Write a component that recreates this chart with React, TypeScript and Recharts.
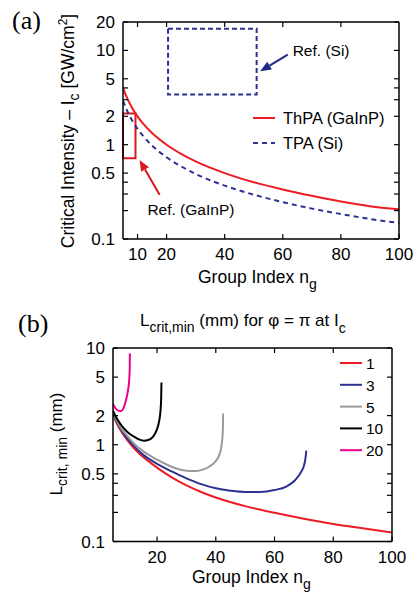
import React from 'react';
import { LineChart, Line, XAxis, YAxis, ReferenceArea, ReferenceLine, ReferenceDot, Legend } from 'recharts';

const FONT = '"Liberation Sans", Arial, Helvetica, sans-serif';
const SERIF = '"Liberation Serif", "Times New Roman", serif';

const RED = '#ed1c24';
const RED_BOX = '#d71920';
const NAVY = '#2e3192';
const GRAY = '#9a9a9a';
const PINK = '#ec008c';
const BLACK = '#000000';

// ---------- Panel (a) ----------
const groupIndexA = [5, 6, 7, 8, 10, 12, 15, 20, 25, 30, 40, 50, 60, 70, 80, 90, 100];
const thpaGaInP = [4.0, 3.35, 2.86, 2.5, 2.0, 1.66, 1.33, 1.0, 0.8, 0.665, 0.5, 0.4, 0.335, 0.287, 0.25, 0.223, 0.207];
const tpaSi = [2.92, 2.45, 2.1, 1.84, 1.47, 1.23, 0.98, 0.735, 0.59, 0.49, 0.368, 0.295, 0.246, 0.21, 0.184, 0.163, 0.148];
const seriesNamesA = ['ThPA (GaInP)', 'TPA (Si)'];

const xTicksA = [10, 20, 40, 60, 80, 100];
const xTopTicksA = [10, 20, 40, 60, 80];
const yTicksA = [0.1, 0.2, 0.3, 0.4, 0.5, 1, 2, 3, 4, 5, 10, 20];
const yLabelsA = [0.1, 0.5, 1, 2, 5, 10, 20];

// reference boxes [n1, n2, I1, I2]
const refBoxSi = [20.5, 51, 3.4, 17];
const refBoxGaInP = [5, 9.3, 0.72, 2.14];
// arrows [nTail, ITail, nTip, ITip]
const arrowSi = [61.7, 9.0, 52.2, 6.0];
const arrowGaInP = [17.6, 0.294, 10.7, 0.69];
// annotation text anchors [n, I]
const textSi = [63.4, 10];
const textGaInP = [13.4, 0.204];

// ---------- Panel (b) ----------
const nB1 = [5, 6, 7, 8, 10, 12, 15, 20, 25, 30, 35, 40, 50, 60, 70, 80, 90, 100];
const lB1 = [2.05, 1.74, 1.52, 1.35, 1.1, 0.93, 0.76, 0.58, 0.46, 0.38, 0.325, 0.285, 0.232, 0.198, 0.172, 0.152, 0.137, 0.124];
const nB3 = [5, 6, 7, 8, 10, 12, 15, 20, 25, 30, 35, 40, 45, 50, 55, 60, 64, 67, 69, 70.1, 70.6, 70.8];
const lB3 = [2.1, 1.8, 1.57, 1.4, 1.15, 0.98, 0.8, 0.635, 0.53, 0.45, 0.392, 0.355, 0.335, 0.325, 0.325, 0.34, 0.37, 0.43, 0.52, 0.62, 0.75, 0.87];
const nB5 = [5, 6, 7, 8, 10, 12, 15, 18, 20, 23, 26, 30, 33, 36, 38, 40, 41.3, 42, 42.4, 42.5];
const lB5 = [2.15, 1.85, 1.62, 1.45, 1.22, 1.04, 0.87, 0.76, 0.7, 0.63, 0.575, 0.54, 0.535, 0.56, 0.6, 0.68, 0.8, 1.0, 1.4, 2.1];
const nB10 = [5, 6, 7, 8, 10, 12, 14, 15.5, 17, 18.5, 19.8, 20.7, 21.2, 21.4, 21.5];
const lB10 = [2.25, 1.95, 1.73, 1.57, 1.35, 1.22, 1.13, 1.1, 1.12, 1.2, 1.4, 1.75, 2.3, 3.0, 4.4];
const nB20 = [5, 6, 7, 7.8, 8.6, 9.3, 10, 10.5, 10.7, 10.75];
const lB20 = [2.62, 2.35, 2.24, 2.23, 2.4, 2.8, 3.5, 4.6, 6.2, 8.8];
const seriesNamesB = ['1', '3', '5', '10', '20'];
const seriesColorsB = [RED, NAVY, GRAY, BLACK, PINK];

const xTicksB = [20, 40, 60, 80, 100];
const xTopTicksB = [20, 40, 60, 80];
const yTicksB = [0.1, 0.2, 0.3, 0.4, 0.5, 1, 2, 5, 10];
const yLabelsB = [0.1, 0.5, 1, 2, 5, 10];

const zip = (ns: number[], vs: number[]) => ns.map((n, i) => ({ n, v: vs[i] }));

const dataA = [zip(groupIndexA, thpaGaInP), zip(groupIndexA, tpaSi)];
const dataB = [zip(nB1, lB1), zip(nB3, lB3), zip(nB5, lB5), zip(nB10, lB10), zip(nB20, lB20)];

const TICK_FS = 17;
const TL = 5;
const axisStyle = { stroke: '#000', strokeWidth: 1.5 };

const leftTick = (labels: number[]) => (props: any) => {
  const { x, y, payload } = props;
  const v = payload.value;
  return (
    <g>
      <line x1={x} x2={x + TL} y1={y} y2={y} stroke="#000" strokeWidth={1.2} />
      {labels.includes(v) && (
        <text x={x - 8} y={y + 6} textAnchor="end" fontSize={TICK_FS} fontFamily={FONT} fill="#000">
          {String(v)}
        </text>
      )}
    </g>
  );
};
const rightTick = (props: any) => {
  const { x, y } = props;
  return <line x1={x} x2={x - TL} y1={y} y2={y} stroke="#000" strokeWidth={1.2} />;
};
const bottomTick = (props: any) => {
  const { x, y, payload } = props;
  return (
    <g>
      <line x1={x} x2={x} y1={y} y2={y - TL} stroke="#000" strokeWidth={1.2} />
      <text x={x} y={y + 21} textAnchor="middle" fontSize={TICK_FS} fontFamily={FONT} fill="#000">
        {String(payload.value)}
      </text>
    </g>
  );
};
const topTick = (props: any) => {
  const { x, y } = props;
  return <line x1={x} x2={x} y1={y} y2={y + TL} stroke="#000" strokeWidth={1.2} />;
};

const arrowShape = (color: string) => (p: any) => {
  const x1 = Number(p.x1), y1 = Number(p.y1), x2 = Number(p.x2), y2 = Number(p.y2);
  const dx = x2 - x1, dy = y2 - y1;
  const len = Math.hypot(dx, dy) || 1;
  const ux = dx / len, uy = dy / len;
  const hl = 11, hw = 4.5;
  const bx = x2 - ux * hl, by = y2 - uy * hl;
  return (
    <g>
      <line x1={x1} y1={y1} x2={bx} y2={by} stroke={color} strokeWidth={2} />
      <polygon points={`${x2},${y2} ${bx - uy * hw},${by + ux * hw} ${bx + uy * hw},${by - ux * hw}`} fill={color} />
    </g>
  );
};

const textShape = (label: string) => (p: any) => (
  <text x={p.cx} y={p.cy + 5.5} fontSize={15.5} fontFamily={FONT} fill="#000">
    {label}
  </text>
);

const yTitleA = () => (
  <g>
    <text x={12} y={29} fontSize={26} fontFamily={SERIF} fill="#000">(a)</text>
    <text x={74} y={131} transform="rotate(-90, 74, 131)" textAnchor="middle" fontSize={17.5} fontFamily={FONT} fill="#000">
      Critical Intensity – I<tspan fontSize={14} dy={5}>c</tspan>
      <tspan dy={-5}> [GW/cm</tspan>
      <tspan fontSize={12} dy={-7}>2</tspan>
      <tspan dy={7}>]</tspan>
    </text>
  </g>
);
const xTitleA = () => (
  <text x={198} y={283} fontSize={17.5} fontFamily={FONT} fill="#000">
    Group Index n<tspan fontSize={14} dy={6}>g</tspan>
  </text>
);

const yTitleB = () => (
  <g>
    <text x={18} y={32} fontSize={26} fontFamily={SERIF} fill="#000">(b)</text>
    <text x={62} y={144} transform="rotate(-90, 62, 144)" textAnchor="middle" fontSize={17} fontFamily={FONT} fill="#000">
      L<tspan fontSize={14} dy={5}>crit, min</tspan>
      <tspan dy={-5}> (mm)</tspan>
    </text>
  </g>
);
const titleB = () => (
  <text x={140} y={26} fontSize={17} fontFamily={FONT} fill="#000">
    L<tspan fontSize={14} dy={6}>crit,min</tspan>
    <tspan dy={-6}> (mm) for φ  =  π at I</tspan>
    <tspan fontSize={14} dy={7}>c</tspan>
  </text>
);
const xTitleB = () => (
  <text x={192} y={283} fontSize={17.5} fontFamily={FONT} fill="#000">
    Group Index n<tspan fontSize={14} dy={6}>g</tspan>
  </text>
);

const legendA = () => (
  <svg width={170} height={55}>
    <line x1={8} x2={30} y1={13} y2={13} stroke={RED} strokeWidth={2} />
    <text x={38} y={19} fontSize={16.5} fontFamily={FONT} fill="#000">{seriesNamesA[0]}</text>
    <line x1={8} x2={30} y1={38} y2={38} stroke={NAVY} strokeWidth={2} strokeDasharray="5 4" />
    <text x={38} y={44} fontSize={16.5} fontFamily={FONT} fill="#000">{seriesNamesA[1]}</text>
  </svg>
);

const legendB = () => (
  <svg width={80} height={110}>
    {seriesNamesB.map((name, i) => {
      const y = 10 + i * 21.8;
      return (
        <g key={name}>
          <line x1={8} x2={30} y1={y} y2={y} stroke={seriesColorsB[i]} strokeWidth={2} />
          <text x={34} y={y + 6} fontSize={15.5} fontFamily={FONT} fill="#000">{name}</text>
        </g>
      );
    })}
  </svg>
);

export default function App() {
  return (
    <div style={{ position: 'absolute', left: 0, top: 0, width: 419, height: 595, background: '#fff' }}>
      <div style={{ position: 'absolute', left: 0, top: 0 }}>
        <LineChart width={419} height={300} margin={{ top: 21, right: 19, left: 63, bottom: 31 }}>
          <XAxis dataKey="n" type="number" domain={[5, 100]} allowDataOverflow ticks={xTicksA} interval={0}
            tickSize={0} tickMargin={0} tickLine={false} tick={bottomTick} axisLine={axisStyle} height={30} label={xTitleA} />
          <XAxis xAxisId="top" orientation="top" dataKey="n" type="number" domain={[5, 100]} allowDataOverflow ticks={xTopTicksA}
            interval={0} tickSize={0} tickMargin={0} tickLine={false} tick={topTick} axisLine={axisStyle} height={1} />
          <YAxis type="number" scale="log" domain={[0.1, 20]} allowDataOverflow ticks={yTicksA} interval={0}
            tickSize={0} tickMargin={0} tickLine={false} tick={leftTick(yLabelsA)} axisLine={axisStyle} width={60} label={yTitleA} />
          <YAxis yAxisId="right" orientation="right" type="number" scale="log" domain={[0.1, 20]} allowDataOverflow ticks={yTicksA}
            interval={0} tickSize={0} tickMargin={0} tickLine={false} tick={rightTick} axisLine={axisStyle} width={1} />
          <ReferenceArea x1={refBoxSi[0]} x2={refBoxSi[1]} y1={refBoxSi[2]} y2={refBoxSi[3]} fill="none" fillOpacity={0}
            stroke={NAVY} strokeWidth={2} strokeDasharray="5 3" />
          <ReferenceArea x1={refBoxGaInP[0]} x2={refBoxGaInP[1]} y1={refBoxGaInP[2]} y2={refBoxGaInP[3]} fill="none" fillOpacity={0}
            stroke={RED_BOX} strokeWidth={2} />
          <Line data={dataA[0]} dataKey="v" name={seriesNamesA[0]} type="monotone" stroke={RED} strokeWidth={2} dot={false} isAnimationActive={false} />
          <Line data={dataA[1]} dataKey="v" name={seriesNamesA[1]} type="monotone" stroke={NAVY} strokeWidth={2} strokeDasharray="5 4" dot={false} isAnimationActive={false} />
          <ReferenceLine segment={[{ x: arrowSi[0], y: arrowSi[1] }, { x: arrowSi[2], y: arrowSi[3] }]} shape={arrowShape('#1f2a85')} />
          <ReferenceLine segment={[{ x: arrowGaInP[0], y: arrowGaInP[1] }, { x: arrowGaInP[2], y: arrowGaInP[3] }]} shape={arrowShape(RED_BOX)} />
          <ReferenceDot x={textSi[0]} y={textSi[1]} r={0} shape={textShape('Ref. (Si)')} />
          <ReferenceDot x={textGaInP[0]} y={textGaInP[1]} r={0} shape={textShape('Ref. (GaInP)')} />
          <Legend layout="vertical" align="center" verticalAlign="middle" content={legendA}
            wrapperStyle={{ position: 'absolute', left: 245, top: 105, width: 170, height: 55 }} />
        </LineChart>
      </div>
      <div style={{ position: 'absolute', left: 0, top: 300 }}>
        <LineChart width={419} height={295} margin={{ top: 47, right: 26, left: 53, bottom: 23.5 }}>
          <XAxis dataKey="n" type="number" domain={[5, 100]} allowDataOverflow ticks={xTicksB} interval={0}
            tickSize={0} tickMargin={0} tickLine={false} tick={bottomTick} axisLine={axisStyle} height={30} label={xTitleB} />
          <XAxis xAxisId="top" orientation="top" dataKey="n" type="number" domain={[5, 100]} allowDataOverflow ticks={xTopTicksB}
            interval={0} tickSize={0} tickMargin={0} tickLine={false} tick={topTick} axisLine={axisStyle} height={1} label={titleB} />
          <YAxis type="number" scale="log" domain={[0.1, 10]} allowDataOverflow ticks={yTicksB} interval={0}
            tickSize={0} tickMargin={0} tickLine={false} tick={leftTick(yLabelsB)} axisLine={axisStyle} width={60} label={yTitleB} />
          <YAxis yAxisId="right" orientation="right" type="number" scale="log" domain={[0.1, 10]} allowDataOverflow ticks={yTicksB}
            interval={0} tickSize={0} tickMargin={0} tickLine={false} tick={rightTick} axisLine={axisStyle} width={1} />
          {dataB.map((d, i) => (
            <Line key={seriesNamesB[i]} data={d} dataKey="v" name={seriesNamesB[i]} type="monotone" stroke={seriesColorsB[i]}
              strokeWidth={2} dot={false} isAnimationActive={false} />
          ))}
          <Legend layout="vertical" align="center" verticalAlign="middle" content={legendB}
            wrapperStyle={{ position: 'absolute', left: 332, top: 53, width: 80, height: 110 }} />
        </LineChart>
      </div>
    </div>
  );
}
